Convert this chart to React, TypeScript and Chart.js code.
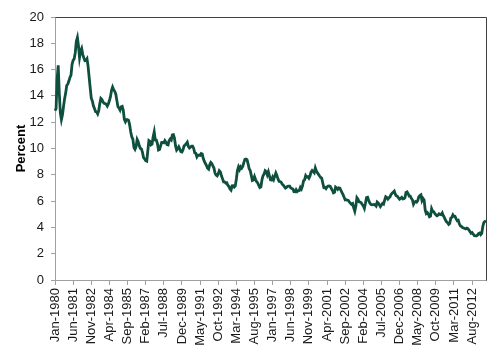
import React, { useEffect, useRef } from "react";
import { Chart, registerables } from "chart.js";

Chart.register(...registerables);

const MONTHS = ["Jan", "Feb", "Mar", "Apr", "May", "Jun", "Jul", "Aug", "Sep", "Oct", "Nov", "Dec"];
const START_YEAR = 1980;

const r1980 = [12.88, 13.04, 15.28, 16.32, 14.26, 12.71, 12.19, 12.56, 13.2, 13.79, 14.21, 14.79];
const r1981 = [14.9, 15.13, 15.4, 15.58, 16.4, 16.7, 16.83, 17.29, 18.16, 18.45, 17.83, 16.92];
const r1982 = [17.4, 17.6, 17.16, 16.89, 16.68, 16.7, 16.82, 16.27, 15.43, 14.61, 13.83, 13.62];
const r1983 = [13.25, 13.04, 12.8, 12.78, 12.63, 12.87, 13.42, 13.81, 13.73, 13.54, 13.44, 13.42];
const r1984 = [13.37, 13.23, 13.39, 13.65, 13.94, 14.42, 14.67, 14.47, 14.35, 14.13, 13.64, 13.18];
const r1985 = [13.08, 12.92, 13.17, 13.2, 12.91, 12.22, 12.03, 12.19, 12.19, 12.14, 11.78, 11.26];
const r1986 = [10.88, 10.71, 10.08, 9.94, 10.14, 10.68, 10.51, 10.2, 10.01, 9.97, 9.7, 9.31];
const r1987 = [9.2, 9.08, 9.04, 9.83, 10.6, 10.54, 10.28, 10.33, 10.89, 11.26, 10.65, 10.64];
const r1988 = [10.38, 9.89, 9.93, 10.2, 10.46, 10.46, 10.43, 10.6, 10.48, 10.3, 10.27, 10.61];
const r1989 = [10.73, 10.65, 11.03, 11.05, 10.77, 10.2, 9.88, 9.99, 10.13, 9.95, 9.77, 9.74];
const r1990 = [9.9, 10.2, 10.27, 10.37, 10.48, 10.16, 10.04, 10.1, 10.18, 10.18, 10.01, 9.67];
const r1991 = [9.64, 9.37, 9.5, 9.49, 9.47, 9.62, 9.58, 9.24, 9.01, 8.86, 8.71, 8.5];
const r1992 = [8.43, 8.76, 8.94, 8.85, 8.67, 8.51, 8.13, 7.98, 7.92, 8.09, 8.31, 8.22];
const r1993 = [7.92, 7.71, 7.46, 7.46, 7.37, 7.4, 7.21, 7.11, 6.92, 6.83, 7.16, 7.17];
const r1994 = [7.06, 7.15, 7.68, 8.32, 8.6, 8.4, 8.61, 8.51, 8.64, 8.93, 9.17, 9.2];
const r1995 = [9.15, 8.83, 8.46, 8.32, 7.96, 7.57, 7.61, 7.86, 7.64, 7.48, 7.38, 7.2];
const r1996 = [7.03, 7.08, 7.62, 7.93, 8.07, 8.32, 8.25, 8.0, 8.23, 7.92, 7.62, 7.6];
const r1997 = [7.82, 7.65, 7.9, 8.14, 7.94, 7.69, 7.5, 7.48, 7.43, 7.29, 7.21, 7.1];
const r1998 = [6.99, 7.04, 7.13, 7.14, 7.14, 7.0, 6.95, 6.92, 6.72, 6.71, 6.87, 6.72];
const r1999 = [6.79, 6.81, 7.04, 6.92, 7.15, 7.55, 7.63, 7.94, 7.82, 7.85, 7.74, 7.91];
const r2000 = [8.21, 8.33, 8.24, 8.15, 8.52, 8.29, 8.15, 8.03, 7.91, 7.8, 7.75, 7.38];
const r2001 = [7.03, 7.05, 6.95, 7.08, 7.15, 7.16, 7.13, 6.95, 6.82, 6.62, 6.66, 7.07];
const r2002 = [7.0, 6.89, 7.01, 6.99, 6.81, 6.65, 6.49, 6.29, 6.09, 6.11, 6.07, 6.05];
const r2003 = [5.92, 5.84, 5.75, 5.81, 5.48, 5.23, 5.63, 6.26, 6.15, 5.95, 5.93, 5.88];
const r2004 = [5.74, 5.64, 5.45, 5.83, 6.27, 6.29, 6.06, 5.87, 5.75, 5.72, 5.73, 5.75];
const r2005 = [5.71, 5.63, 5.93, 5.86, 5.72, 5.58, 5.7, 5.82, 5.77, 6.07, 6.33, 6.27];
const r2006 = [6.15, 6.25, 6.32, 6.51, 6.6, 6.68, 6.76, 6.52, 6.4, 6.36, 6.24, 6.14];
const r2007 = [6.22, 6.29, 6.16, 6.18, 6.26, 6.66, 6.7, 6.57, 6.38, 6.38, 6.21, 6.1];
const r2008 = [5.76, 5.92, 5.97, 5.92, 6.04, 6.32, 6.43, 6.48, 6.04, 6.2, 6.09, 5.33];
const r2009 = [5.06, 5.13, 5.0, 4.81, 4.86, 5.42, 5.22, 5.19, 5.06, 4.95, 4.88, 4.93];
const r2010 = [5.03, 4.99, 4.97, 5.1, 4.89, 4.74, 4.56, 4.43, 4.35, 4.23, 4.3, 4.71];
const r2011 = [4.76, 4.95, 4.84, 4.84, 4.64, 4.51, 4.55, 4.27, 4.11, 4.07, 3.99, 3.96];
const r2012 = [3.92, 3.89, 3.95, 3.91, 3.8, 3.68, 3.55, 3.6, 3.5, 3.38, 3.35, 3.35];
const r2013 = [3.41, 3.53, 3.57, 3.45, 3.54, 4.07, 4.37, 4.46, 4.49];

const rates: number[] = [
  ...r1980, ...r1981, ...r1982, ...r1983, ...r1984, ...r1985, ...r1986, ...r1987,
  ...r1988, ...r1989, ...r1990, ...r1991, ...r1992, ...r1993, ...r1994, ...r1995,
  ...r1996, ...r1997, ...r1998, ...r1999, ...r2000, ...r2001, ...r2002, ...r2003,
  ...r2004, ...r2005, ...r2006, ...r2007, ...r2008, ...r2009, ...r2010, ...r2011,
  ...r2012, ...r2013,
];

const categories: string[] = rates.map((_, i) => `${MONTHS[i % 12]}-${START_YEAR + Math.floor(i / 12)}`);
const LABEL_EVERY = 17;
const Y_TICKS = [0, 2, 4, 6, 8, 10, 12, 14, 16, 18, 20];

const FONT = "'Liberation Sans', Arial, sans-serif";

const frame = {
  id: "frame",
  afterDraw(chart: any) {
    const { ctx, chartArea } = chart;
    ctx.save();
    ctx.strokeStyle = "#404040";
    ctx.lineWidth = 1;
    ctx.beginPath();
    ctx.moveTo(Math.round(chartArea.left) + 0.5, Math.round(chartArea.top) + 0.5);
    ctx.lineTo(Math.round(chartArea.right) + 0.5, Math.round(chartArea.top) + 0.5);
    ctx.lineTo(Math.round(chartArea.right) + 0.5, Math.round(chartArea.bottom) + 0.5);
    ctx.stroke();
    ctx.restore();
  },
};

export default function App() {
  const ref = useRef<HTMLCanvasElement | null>(null);
  useEffect(() => {
    document.body.style.margin = "0";
    const chart = new Chart(ref.current as HTMLCanvasElement, {
      type: "line",
      data: {
        labels: categories,
        datasets: [
          {
            data: rates,
            borderColor: "#0e4f3e",
            borderWidth: 2.8,
            pointRadius: 0,
            tension: 0,
            fill: false,
          },
        ],
      },
      options: {
        animation: false,
        responsive: false,
        maintainAspectRatio: false,
        layout: { padding: { top: 17, right: 14, left: 0, bottom: 0 } },
        plugins: { legend: { display: false }, tooltip: { enabled: false } },
        scales: {
          x: {
            type: "category",
            offset: false,
            afterFit(scale: any) {
              scale.height = 73;
            },
            grid: {
              display: true,
              drawOnChartArea: false,
              drawTicks: true,
              tickLength: 5,
              color: "#a0a0a0",
            },
            border: { display: true, color: "#a0a0a0", width: 1 },
            ticks: {
              autoSkip: false,
              maxRotation: 90,
              minRotation: 90,
              padding: 3,
              color: "#1a1a1a",
              font: { family: FONT, size: 13 },
              callback: (_v: any, i: number) => (i % LABEL_EVERY === 0 ? categories[i] : null),
            },
          },
          y: {
            min: 0,
            max: 20,
            afterFit(scale: any) {
              scale.width = 55;
            },
            afterBuildTicks(scale: any) {
              scale.ticks = Y_TICKS.map((v) => ({ value: v }));
            },
            grid: {
              display: true,
              drawOnChartArea: false,
              drawTicks: true,
              tickLength: 4,
              color: "#a0a0a0",
            },
            border: { display: true, color: "#a0a0a0", width: 1 },
            ticks: {
              padding: 7,
              color: "#1a1a1a",
              font: { family: FONT, size: 13 },
            },
            title: {
              display: true,
              text: "Percent",
              color: "#000000",
              font: { family: FONT, size: 13, weight: "bold" },
              padding: { top: 14, bottom: 0 },
            },
          },
        },
      },
      plugins: [frame],
    } as any);
    return () => chart.destroy();
  }, []);
  return (
    <div style={{ width: 500, height: 353 }}>
      <canvas ref={ref} width={500} height={353} style={{ display: "block" }} />
    </div>
  );
}
